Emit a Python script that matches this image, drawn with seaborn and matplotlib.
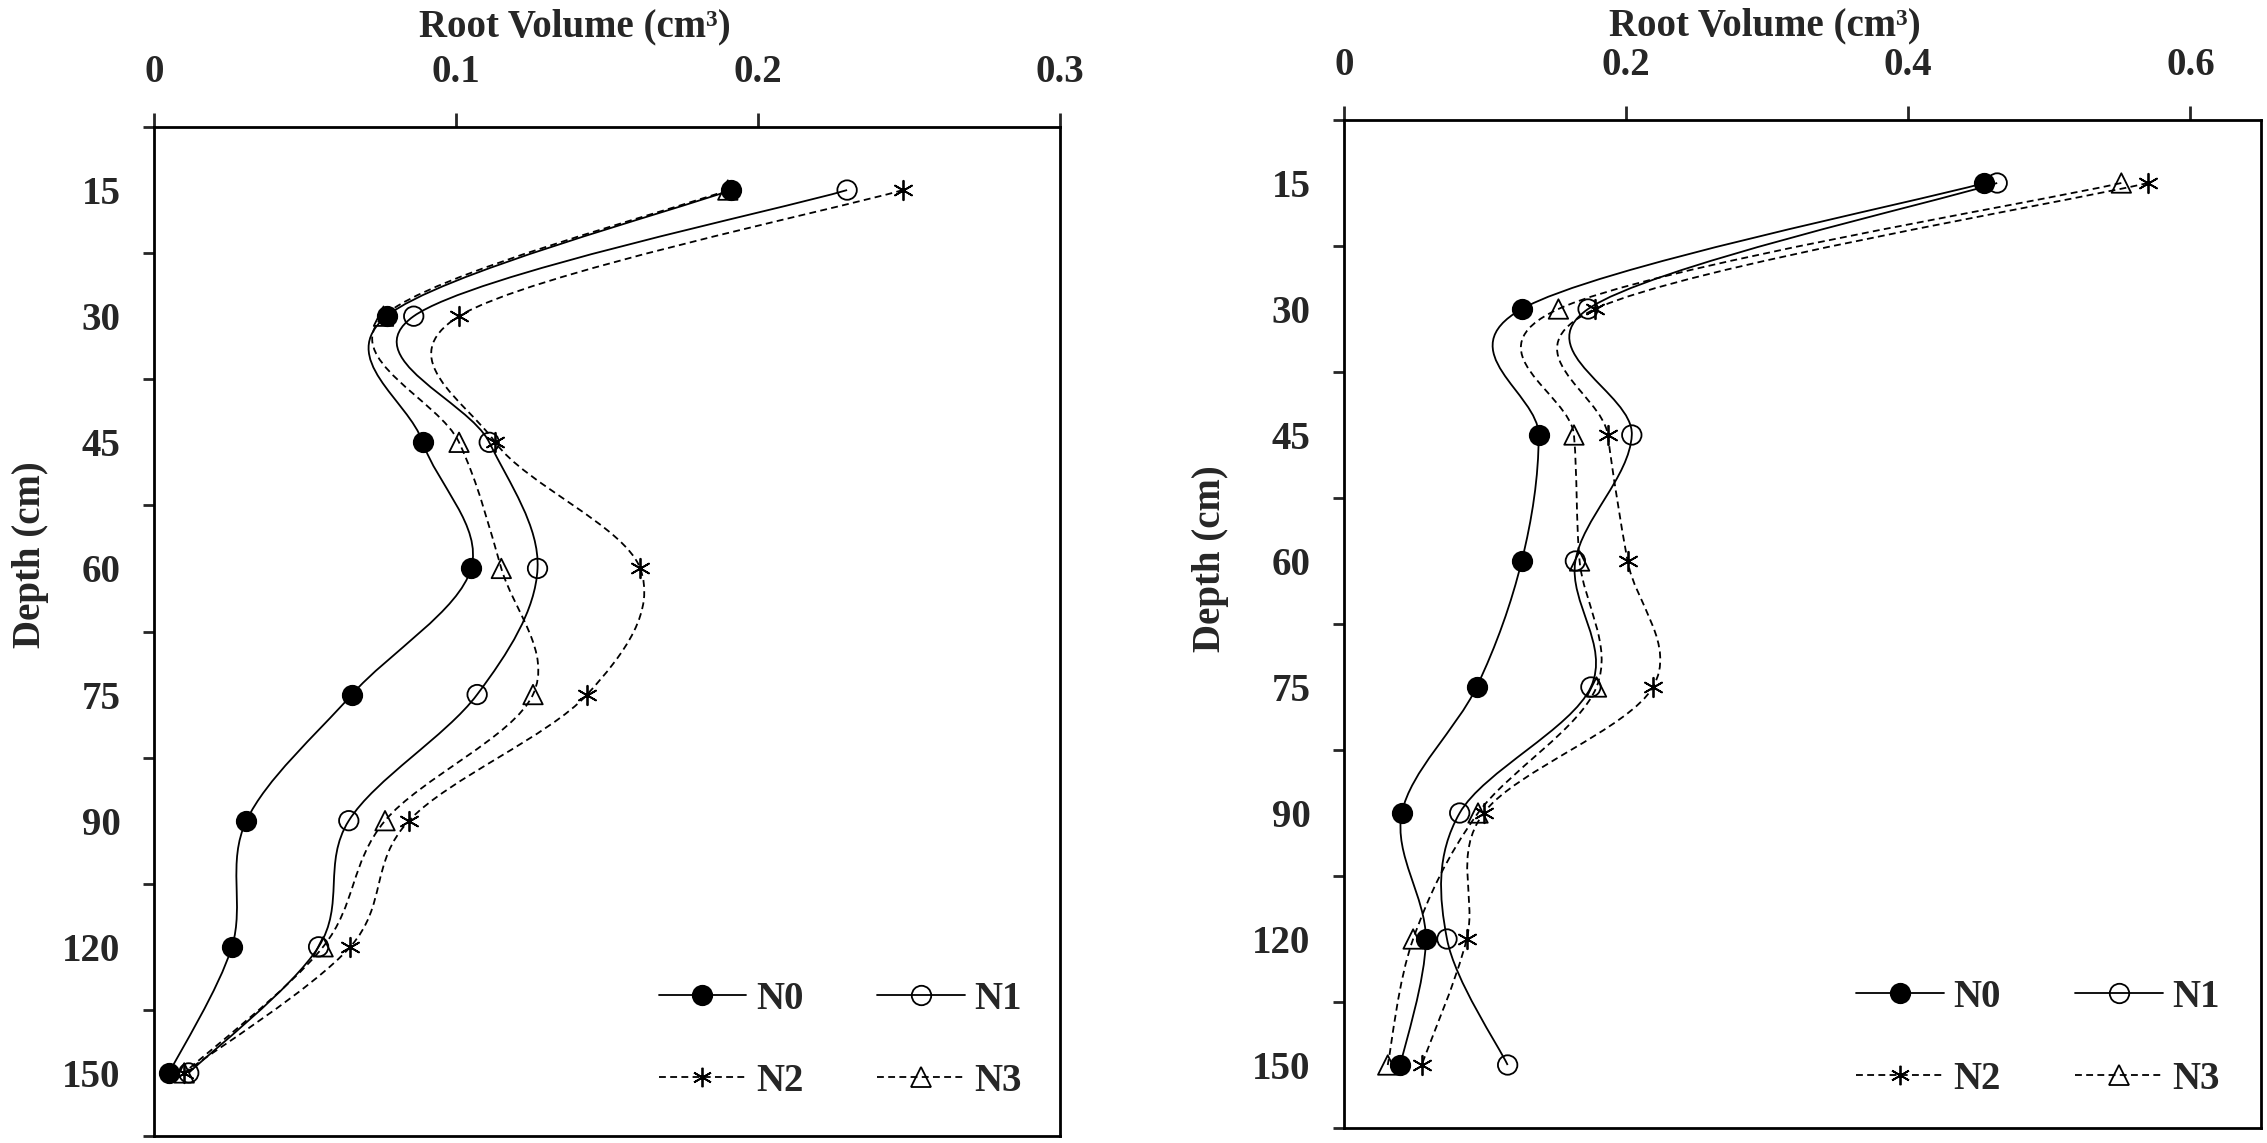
import numpy as np
import pandas as pd
import matplotlib
matplotlib.use("Agg")
import matplotlib.pyplot as plt
import seaborn as sns
from matplotlib.path import Path
from matplotlib.patches import PathPatch
from matplotlib.lines import Line2D

# ---------------- data ----------------
depth_labels = ['15', '30', '45', '60', '75', '90', '120', '150']
treatments = ['N0', 'N1', 'N2', 'N3']

left_N0 = [0.191, 0.077, 0.089, 0.105, 0.0655, 0.0306, 0.0258, 0.005]
left_N1 = [0.2295, 0.086, 0.111, 0.127, 0.107, 0.0645, 0.0545, 0.0115]
left_N2 = [0.248, 0.101, 0.113, 0.161, 0.1434, 0.0844, 0.065, 0.010]
left_N3 = [0.190, 0.076, 0.101, 0.115, 0.1255, 0.0765, 0.056, 0.010]

right_N0 = [0.454, 0.126, 0.138, 0.126, 0.094, 0.041, 0.058, 0.040]
right_N1 = [0.463, 0.173, 0.204, 0.164, 0.175, 0.082, 0.073, 0.116]
right_N2 = [0.570, 0.178, 0.187, 0.201, 0.219, 0.099, 0.087, 0.055]
right_N3 = [0.551, 0.152, 0.163, 0.167, 0.179, 0.095, 0.049, 0.031]

left_xticks = [0, 0.1, 0.2, 0.3]
left_xticklabels = ['0', '0.1', '0.2', '0.3']
right_xticks = [0, 0.2, 0.4, 0.6]
right_xticklabels = ['0', '0.2', '0.4', '0.6']

x_title = 'Root Volume (cm³)'
y_title = 'Depth (cm)'

rows = []
for panel, series in (('left', [left_N0, left_N1, left_N2, left_N3]),
                      ('right', [right_N0, right_N1, right_N2, right_N3])):
    for trt, vals in zip(treatments, series):
        for i, (lab, v) in enumerate(zip(depth_labels, vals)):
            rows.append({'panel': panel, 'treatment': trt, 'depth': lab,
                         'pos': i + 1, 'volume': v})
df = pd.DataFrame(rows)

# ---------------- style ----------------
sns.set_style('white')
plt.rcParams['font.family'] = ['Liberation Serif', 'DejaVu Serif']
plt.rcParams['font.weight'] = 'bold'
plt.rcParams['axes.labelweight'] = 'bold'
FS = 28

DASH = (0, (3.8, 2.4))
styles = {
    'N0': dict(marker='o', face='black', ls='-', ms=14),
    'N1': dict(marker='o', face='none', ls='-', ms=14),
    'N2': dict(marker=(6, 2, 0), face='black', ls=DASH, ms=14),
    'N3': dict(marker='^', face='none', ls=DASH, ms=14),
}
LW = 1.3


def smooth_path(xs, ys, t=1.0 / 6.0):
    pts = np.column_stack([xs, ys]).astype(float)
    n = len(pts)
    verts = [pts[0]]
    codes = [Path.MOVETO]
    for i in range(n - 1):
        p_prev = pts[i - 1] if i > 0 else pts[i]
        p_next2 = pts[i + 2] if i + 2 < n else pts[i + 1]
        c1 = pts[i] + (pts[i + 1] - p_prev) * t
        c2 = pts[i + 1] - (p_next2 - pts[i]) * t
        verts += [c1, c2, pts[i + 1]]
        codes += [Path.CURVE4] * 3
    return Path(verts, codes)


fig = plt.figure(figsize=(22.67, 11.43), dpi=100)
W, H = 2267, 1143
ax_l = fig.add_axes([154 / W, 1 - 1136 / H, 906 / W, 1009 / H])
ax_r = fig.add_axes([1344 / W, 1 - 1128 / H, 917 / W, 1008 / H])

configs = [
    (ax_l, 'left', 0.3, left_xticks, left_xticklabels, (0.465, 1.090), (-0.116, 0.576), (0.958, 0.036)),
    (ax_r, 'right', 0.65, right_xticks, right_xticklabels, (0.459, 1.084), (-0.125, 0.565), (0.955, 0.030)),
]

for ax, panel, xmax, xt, xtl, xlab_pos, ylab_pos, leg_pos in configs:
    sub = df[df.panel == panel]
    for trt in treatments:
        st = styles[trt]
        d = sub[sub.treatment == trt].sort_values('pos')
        path = smooth_path(d['volume'].values, d['pos'].values)
        ax.add_patch(PathPatch(path, facecolor='none', edgecolor='black',
                               lw=LW, linestyle=st['ls'], zorder=2))
        if st['marker'] == (6, 2, 0):
            sns.scatterplot(data=d, x='volume', y='pos', marker=st['marker'],
                            s=st['ms'] ** 2, color='black', linewidth=1.3,
                            ax=ax, zorder=4, legend=False)
        else:
            sns.scatterplot(data=d, x='volume', y='pos', marker=st['marker'],
                            s=st['ms'] ** 2, facecolor=st['face'],
                            edgecolor='black', linewidth=1.3,
                            ax=ax, zorder=4, legend=False)

    ax.set_xlim(0, xmax)
    ax.set_ylim(8.5, 0.5)
    ax.xaxis.tick_top()
    ax.xaxis.set_label_position('top')
    ax.set_xticks(xt)
    ax.set_xticklabels(xtl)
    ax.set_yticks(range(1, len(depth_labels) + 1))
    ax.set_yticklabels(depth_labels)
    ax.set_yticks(np.arange(0.5, len(depth_labels) + 1, 1.0), minor=True)
    ax.tick_params(axis='y', which='major', length=0, pad=24, labelsize=FS)
    ax.tick_params(axis='y', which='minor', length=8, width=2, direction='out', left=True)
    ax.tick_params(axis='x', which='major', length=10, width=2, direction='out',
                   pad=16, labelsize=FS, top=True, bottom=False)
    for lab in ax.get_xticklabels() + ax.get_yticklabels():
        lab.set_fontweight('bold')
    for sp in ax.spines.values():
        sp.set_linewidth(2.0)
        sp.set_color('black')
        sp.set_visible(True)

    ax.set_xlabel(x_title, fontsize=FS, fontweight='bold')
    ax.xaxis.set_label_coords(*xlab_pos)
    ax.set_ylabel(y_title, fontsize=FS, fontweight='bold')
    ax.yaxis.set_label_coords(*ylab_pos)

    handles = {}
    for trt in treatments:
        st = styles[trt]
        handles[trt] = Line2D([], [], color='black', lw=LW, linestyle=st['ls'],
                              marker=st['marker'], markersize=st['ms'],
                              markerfacecolor=st['face'], markeredgecolor='black',
                              markeredgewidth=1.3)
    order = ['N0', 'N2', 'N1', 'N3']
    leg = ax.legend([handles[k] for k in order], order, ncol=2, frameon=False,
                    loc='lower right', bbox_to_anchor=leg_pos, borderpad=0,
                    borderaxespad=0, handlelength=2.25, handletextpad=0.25,
                    columnspacing=1.9, labelspacing=1.15,
                    prop={'family': 'Liberation Serif', 'weight': 'bold', 'size': FS})

fig.savefig('out.png', dpi=100, facecolor='white')
